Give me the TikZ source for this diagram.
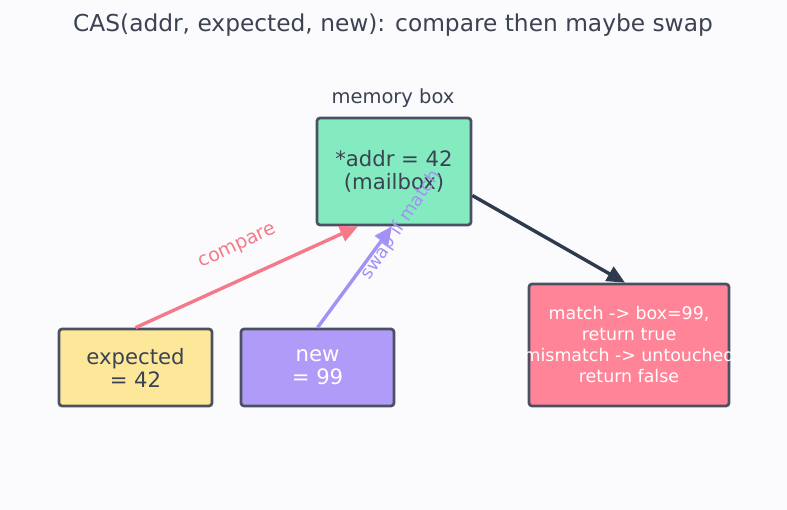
\documentclass[tikz,border=0pt]{standalone}
\usepackage{fontspec}
\setmainfont{DejaVu Sans}
\usetikzlibrary{arrows.meta}
\usetikzlibrary{calc}
\usetikzlibrary{positioning}
\definecolor{bgcol}{HTML}{FBFBFE}
\definecolor{ink}{HTML}{3B4252}
\definecolor{edge}{HTML}{4A5163}
\definecolor{mint}{HTML}{84EBC1}
\definecolor{butter}{HTML}{FDE89A}
\definecolor{lilac}{HTML}{B09CF8}
\definecolor{rose}{HTML}{FF8497}
\definecolor{cmpred}{HTML}{F47A8A}
\definecolor{swapviolet}{HTML}{A391F5}
\definecolor{navy}{HTML}{2E3A4D}

\begin{document}
\begin{tikzpicture}[
	x=1pt, y=-1pt,
  > = {Triangle[length=18pt,width=16pt]},
  box/.style = {draw=edge, line width=2.7pt, rounded corners=3pt, align=center, inner sep=0pt, text=ink},
  big/.style = {font=\fontsize{21.2}{23}\selectfont},
  small/.style = {font=\fontsize{17.4}{21}\selectfont},
  flow/.style = {->, line width=3.4pt}
  ]
	\fill[bgcol] (0,0) rectangle (787,510);
	\useasboundingbox (0,0) rectangle (787,510);

	\node[text=ink, font=\fontsize{23.3}{27}\selectfont] (title) at (393,25) {CAS(addr, expected, new): compare then maybe swap};
	\node[text=ink, font=\fontsize{19.5}{22}\selectfont] (memlbl) at (393,98) {memory box};

	\node[box, big, fill=mint, minimum width=154pt, minimum height=107pt] (mem) at (394,171.5) {*addr = 42\\(mailbox)};
	\node[box, big, fill=butter, minimum width=153pt, minimum height=77pt] (exp) at (135.5,367.5) {expected\\= 42};
	\node[box, big, fill=lilac, text=white, minimum width=153pt, minimum height=77pt] (new) at (317.5,367.5) {new\\= 99};
	\node[box, small, fill=rose, text=white, minimum width=200pt, minimum height=122pt] (res) at (629,345)
		{match -> box=99,\\return true\\\makebox[0pt]{mismatch -> untouched}\\return false};

	\draw[flow, cmpred] (exp.north) -- ([xshift=-36pt]mem.south);
	\draw[flow, swapviolet] (new.north) -- ([xshift=-2pt]mem.south);
	\draw[flow, navy] ([yshift=-24pt]mem.east) -- ([xshift=-4pt]res.north);

	\node[text=cmpred, rotate=25, font=\fontsize{19}{22}\selectfont] (cmplbl) at (238,247) {compare};
	\node[text=swapviolet, rotate=56, font=\fontsize{18}{22}\selectfont] (swaplbl) at (401,225) {swap if match};

\end{tikzpicture}
\end{document}
